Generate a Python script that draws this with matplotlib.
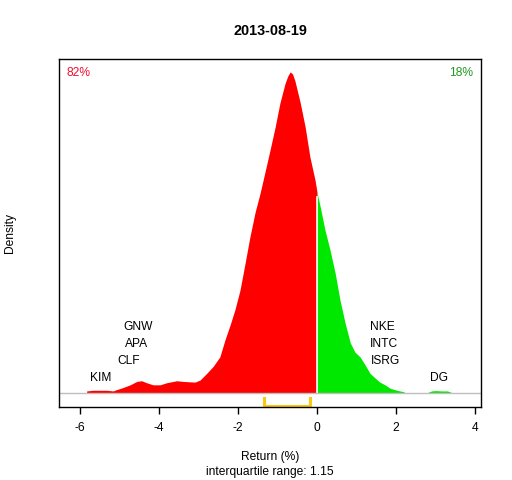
import numpy as np
import matplotlib
matplotlib.use('Agg')
import matplotlib.pyplot as plt

plt.rcParams['font.family'] = ['Liberation Sans', 'DejaVu Sans']

# density estimate of daily returns
ret = np.array([-5.83, -5.67, -5.32, -5.16, -5.07, -4.91, -4.73, -4.56, -4.44,
                -4.31, -4.15, -3.97, -3.81, -3.55, -3.39, -3.09, -2.96, -2.79,
                -2.63, -2.46, -2.33, -2.20, -2.08, -1.95, -1.82, -1.70, -1.57,
                -1.44, -1.32, -1.19, -1.06, -0.94, -0.81, -0.74, -0.68, -0.62,
                -0.56, -0.43,
                -0.30, -0.18, -0.05, 0.0, 0.08, 0.20, 0.33, 0.46, 0.58, 0.71,
                0.84, 0.96, 1.09, 1.22, 1.34, 1.47, 1.59, 1.72, 1.85, 2.02,
                2.18, 2.25, 2.77, 2.90, 3.00, 3.15, 3.30, 3.44])
dens = np.array([0.003, 0.004, 0.004, 0.003, 0.005, 0.008, 0.012, 0.017, 0.018,
                 0.015, 0.012, 0.012, 0.015, 0.018, 0.017, 0.016, 0.019, 0.029,
                 0.039, 0.053, 0.078, 0.100, 0.122, 0.151, 0.191, 0.229, 0.265,
                 0.294, 0.324, 0.357, 0.391, 0.426, 0.455, 0.466, 0.472, 0.469,
                 0.459, 0.428,
                 0.391, 0.347, 0.313, 0.295, 0.274, 0.240, 0.210, 0.176, 0.137,
                 0.103, 0.074, 0.060, 0.053, 0.041, 0.029, 0.022, 0.016, 0.012,
                 0.007, 0.004, 0.002, 0.0, 0.0, 0.003, 0.0035, 0.003, 0.003, 0.0])

q1, q3 = -1.33, -0.18
neg_pct, pos_pct = '82%', '18%'

low_names = ['KIM', 'CLF', 'APA', 'GNW']
low_rets = [-5.47, -4.77, -4.58, -4.54]
high_names = ['DG', 'ISRG', 'INTC', 'NKE']
high_rets = [3.08, 1.73, 1.69, 1.65]

fig = plt.figure(figsize=(5.12, 4.8), dpi=100)
ax = fig.add_axes([59/512, 1-407/480, 422/512, 348/480])

ax.fill_between(ret, dens, where=ret <= 0, color='#FF0000', lw=0)
ax.fill_between(ret, dens, where=ret >= 0, color='#00E800', lw=0)
ax.plot([0, 0], [0, 0.288], color='white', lw=1.2)
ax.axhline(0, color='#BEBEBE', lw=1.0)

ax.set_xlim(-6.53, 4.15)
ax.set_ylim(-0.0206, 0.491)

# interquartile bracket
ax.plot([q1, q1, q3, q3], [-0.0074, -0.0195, -0.0195, -0.0074],
        color='#FAC80F', lw=2.2, solid_joinstyle='miter', clip_on=False)

# extreme names stacked above the baseline
base, step = 0.0225, 0.025
for i, (n, r) in enumerate(zip(low_names, low_rets)):
    ax.text(r, base + i*step, n, ha='center', va='center', fontsize=8.64)
for i, (n, r) in enumerate(zip(high_names, high_rets)):
    ax.text(r, base + i*step, n, ha='center', va='center', fontsize=8.64)

ax.text(0.018, 0.96, neg_pct, transform=ax.transAxes, color='#EE1133',
        ha='left', va='center', fontsize=8.64)
ax.text(0.982, 0.96, pos_pct, transform=ax.transAxes, color='#229922',
        ha='right', va='center', fontsize=8.64)

ax.set_xticks([-6, -4, -2, 0, 2, 4])
ax.set_xticklabels(['-6', '-4', '-2', '0', '2', '4'])
ax.set_yticks([])
ax.tick_params(axis='x', length=5, width=1, pad=6, labelsize=8.64)
for s in ax.spines.values():
    s.set_linewidth(1)

fig.text(270/512, 1-31/480, '2013-08-19', ha='center', va='center',
         fontsize=10.4, fontweight='bold')
fig.text(270/512, 1-457/480, 'Return (%)', ha='center', va='center', fontsize=8.64)
fig.text(270/512, 1-472/480, 'interquartile range: 1.15', ha='center',
         va='center', fontsize=8.64)
fig.text(10/512, 1-233/480, 'Density', rotation=90, ha='center', va='center',
         fontsize=8.64)

fig.savefig('out.png', dpi=100)
